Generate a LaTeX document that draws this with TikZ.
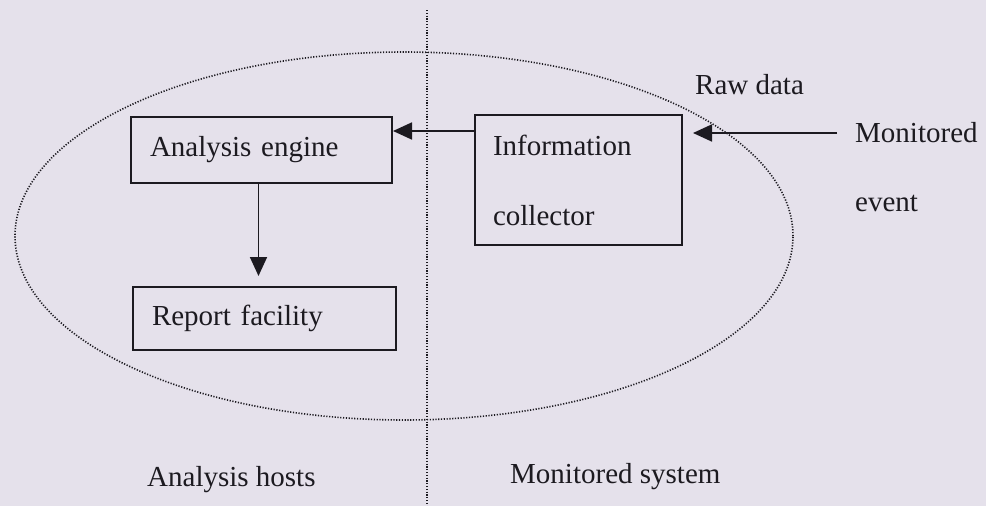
\documentclass[tikz,border=0pt]{standalone}
\usepackage{fontspec}
\setmainfont{Liberation Serif}
\usetikzlibrary{arrows.meta}
\definecolor{paper}{RGB}{229,225,235}
\definecolor{ink}{RGB}{28,26,32}
\tikzset{
  box/.style={draw=ink, line width=2pt, inner xsep=19pt, align=left, text=ink},
  lbl/.style={inner sep=0pt, text=ink},
  dots/.style={ink, line width=1.6pt, dash pattern=on 1.2pt off 1.6pt},
  arr/.style={-{Triangle[length=19pt,width=17pt]}, ink, line width=1.8pt}
}
\begin{document}
\begin{tikzpicture}[x=1pt, y=-1pt, font=\fontsize{29}{70}\selectfont]
	\useasboundingbox (0,0) rectangle (986,506);
	\fill[paper] (0,0) rectangle (986,506);
	\def\divx{427}
	% boundary of the monitored system
	\coordinate (divtop) at (\divx,10);
	\coordinate (divbot) at (\divx,506);
	\draw[dots] (divtop) -- (divbot);
	\draw[dots] (404,236) ellipse [x radius=389pt, y radius=184pt];
	% boxes
	\node[box, text width=223pt, minimum height=66pt] (engine) at (261.5,150) {Analysis engine};
	\node[box, text width=171pt, inner xsep=18pt, minimum height=130pt] (info) at (578.5,180) {Information\\collector};
	\node[box, text width=225pt, minimum height=63pt] (report) at (264.5,318.5) {Report facility};
	% labels
	\node[lbl, anchor=west] (raw) at (695,85) {Raw data};
	\node[lbl, anchor=west] (mon) at (855,133) {Monitored};
	\node[lbl, anchor=west] (event) at (855,203) {event};
	\node[lbl, anchor=west] (hosts) at (147,480) {Analysis hosts};
	\node[lbl, anchor=west] (system) at (510,477) {Monitored system};
	% flows
	\draw[arr] ([yshift=-17pt]info.north west) coordinate (a) -- (a -| engine.east);
	\draw[arr] ([xshift=-18pt]mon.west) coordinate (b) -- ([xshift=10pt]b -| info.east);
	\draw[arr, shorten >=10pt] ([xshift=-3pt]engine.south) coordinate (c) -- (c |- report.north);
\end{tikzpicture}
\end{document}
